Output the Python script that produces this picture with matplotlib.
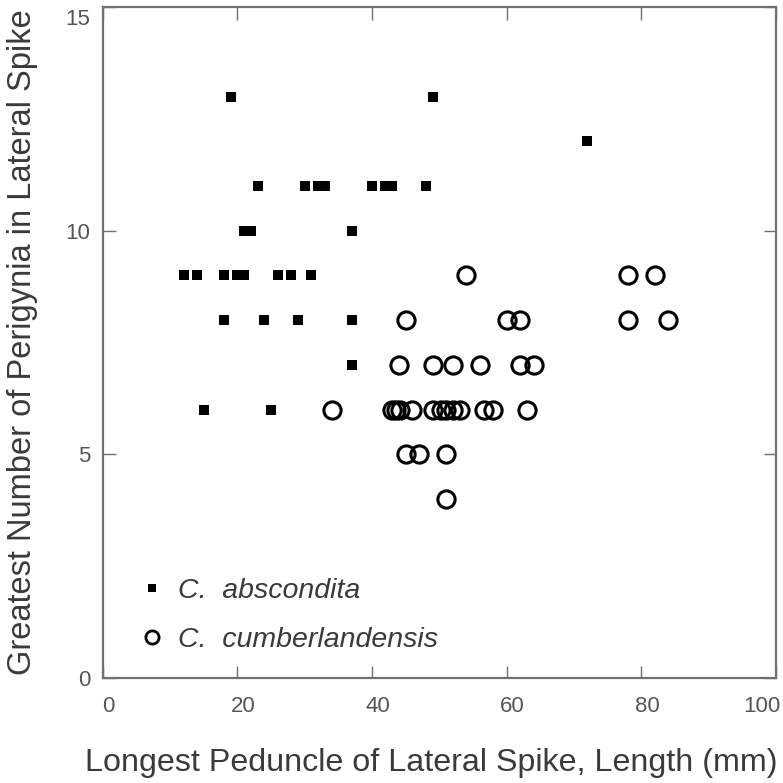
import matplotlib
matplotlib.use("Agg")
import matplotlib.pyplot as plt
import matplotlib.transforms as mtransforms
from matplotlib.lines import Line2D

# C. abscondita (filled squares)
absc_x = [19, 49, 72,
          23, 30, 32, 33, 40, 42, 43, 48,
          21, 22, 37,
          12, 14, 18, 20, 21, 26, 28, 31,
          18, 24, 29, 37,
          37,
          15, 25]
absc_y = [13, 13, 12,
          11, 11, 11, 11, 11, 11, 11, 11,
          10, 10, 10,
          9, 9, 9, 9, 9, 9, 9, 9,
          8, 8, 8, 8,
          7,
          6, 6]

# C. cumberlandensis (open circles)
cumb_x = [54, 78, 82,
          45, 60, 62, 78, 84,
          44, 49, 52, 56, 62, 64,
          34, 43, 43.6, 44.2, 46, 49, 50.2, 51, 52, 53, 56.7, 58, 63,
          45, 47, 51,
          51]
cumb_y = [9, 9, 9,
          8, 8, 8, 8, 8,
          7, 7, 7, 7, 7, 7,
          6, 6, 6, 6, 6, 6, 6, 6, 6, 6, 6, 6, 6,
          5, 5, 5,
          4]

x_ticks = [0, 20, 40, 60, 80, 100]
y_ticks = [0, 5, 10, 15]
labels = ["C.  abscondita", "C.  cumberlandensis"]

plt.rcParams['font.family'] = ['Liberation Sans', 'DejaVu Sans']
txt = '#3a3a3a'
spine_c = '#707070'

fig = plt.figure(figsize=(7.83, 7.83), dpi=100)
ax = fig.add_axes([0.1312, 0.1341, 0.991 - 0.1312, 0.991 - 0.1341])

ax.plot(absc_x, absc_y, 's', color='black', ms=7.2, mew=0, linestyle='none')
ax.plot(cumb_x, cumb_y, 'o', mfc='none', mec='black', ms=12.4, mew=2.2, linestyle='none')

ax.set_xlim(0, 100)
ax.set_ylim(0, 15)
ax.set_xticks(x_ticks)
ax.set_yticks(y_ticks)

for s in ax.spines.values():
    s.set_color(spine_c)
    s.set_linewidth(1.6)

ax.tick_params(axis='both', direction='in', length=9, width=1, color=spine_c,
               top=True, right=True, labelsize=16, labelcolor='#555555')
ax.tick_params(axis='x', pad=13)
ax.tick_params(axis='y', pad=9)

ax.set_xlabel("Longest Peduncle of Lateral Spike, Length (mm)", fontsize=23.2,
              color=txt, labelpad=22, x=0.4876)
ax.set_ylabel("Greatest Number of Perigynia in Lateral Spike", fontsize=23.5,
              color=txt, labelpad=20)

# small offsets of tick labels as in the reference
dpi_t = fig.dpi_scale_trans
xt = ax.xaxis.get_major_ticks()
for i, tk in enumerate(xt):
    lab = tk.label1
    if i == len(xt) - 1:
        lab.set_horizontalalignment('right')
        lab.set_transform(lab.get_transform() + mtransforms.ScaledTranslation(5 / 100, 0, dpi_t))
    else:
        lab.set_transform(lab.get_transform() + mtransforms.ScaledTranslation(6 / 100, 0, dpi_t))
yt = ax.yaxis.get_major_ticks()
top_lab = yt[-1].label1
top_lab.set_transform(top_lab.get_transform() + mtransforms.ScaledTranslation(0, -10 / 100, dpi_t))

handles = [Line2D([], [], marker='s', color='black', ms=6, mew=0, linestyle='none'),
           Line2D([], [], marker='o', mfc='none', mec='black', ms=9.5, mew=2, linestyle='none')]
leg = ax.legend(handles, labels, loc='lower left', bbox_to_anchor=(0.04, 0.021),
                frameon=False, prop={'style': 'italic', 'size': 20.5},
                handlelength=0.8, handletextpad=0.5, labelspacing=0.8,
                borderaxespad=0)
for t in leg.get_texts():
    t.set_color(txt)

fig.savefig("out.png", dpi=100)
